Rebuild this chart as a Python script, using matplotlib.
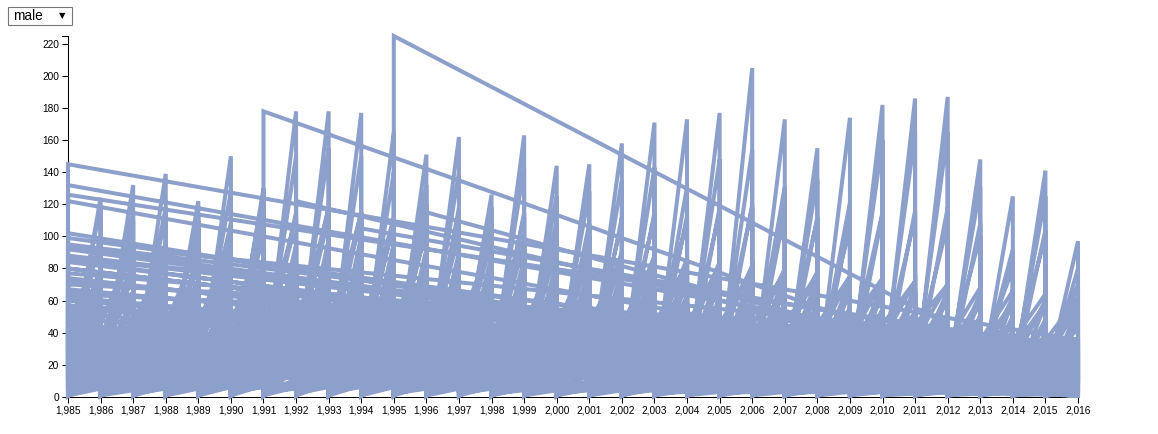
import matplotlib
matplotlib.use("Agg")
import matplotlib.pyplot as plt
from matplotlib.patches import Rectangle
from matplotlib.ticker import FuncFormatter

plt.rcParams['font.family'] = ['Liberation Sans', 'DejaVu Sans']

# selected option in the dropdown
selected_sex = "male"

year_ticks = list(range(1985, 2017))
rate_ticks = list(range(0, 221, 20))

# suicide rate per 100k, one list per country, one entry per year
# (the first age group of each year), rows kept in dataset order
country_01 = [12, 13, 14, 13, 15, 14, 16, 17, 18, 17, 16, 15, 17, 16, 15, 14,
              16, 15, 14, 13, 14, 12, 13, 12, 11, 12, 11, 10, 11, 10, 9, 9]
country_02 = [102, 98, 93, 96, 100, 104, 108, 112, 118, 115, 112, 108, 104, 100, 98, 96,
              92, 90, 88, 86, 84, 82, 80, 78, 75, 73, 72, 70, 68, 66, 64, 62]
country_03 = [145, 124, 132, 139, 122, 150, 130, 178, 178, 177, 165, 151, 162, 126, 163, 144,
              145, 158, 171, 173, 177, 205, 173, 155, 174, 182, 186, 187, 148, 125, 141, 97]
country_04 = [122, 118, 115, 112, 110, 108, 112, 115, 118, 114, 110, 106, 102, 98, 96, 93,
              90, 88, 85, 83, 80, 78, 76, 74, 72, 70, 68, 66, 64, 62, 60, 58]
country_05 = [132, 100, 110, 118, 112, 128, 125, 150, 155, 150, 140, 132, 140, 118, 143, 125,
              128, 135, 143, 131, 148, 154, 131, 136, 121, 160, 164, 165, 131, 92, 125, 70]
country_06 = [87, 70, 74, 76, 73, 78, 80, 84, 88, 85, 82, 80, 78, 76, 75, 74,
              72, 70, 71, 69, 67, 66, 64, 62, 63, 61, 60, 59, 57, 56, 55, 52]
country_07 = [126, 80, 85, 90, 88, 95, 100, 110, 112, 115, 108, 105, 110, 100, 112, 104,
              100, 108, 112, 110, 115, 118, 115, 110, 105, 115, 112, 108, 100, 80, 100, 60]
country_08 = [77, 58, 56, 54, 57, 60, 62, 66, 70, 72, 71, 68, 64, 62, 61, 59,
              58, 57, 56, 54, 53, 52, 50, 51, 49, 48, 47, 46]
country_09 = [99, 68, 66, 70, 72, 75, 78, 74, 80, 83, 79, 76, 74, 72, 70, 69,
              67, 65, 64, 62, 61, 60, 58, 57, 56, 55, 53, 52, 51, 50, 48, 46]
country_10 = [74, 64, 60, 63, 66, 70, 75, 82, 86, 90, 88, 85, 80, 78, 74, 72,
              70, 68, 65, 62, 60, 61, 58, 56, 55, 54, 52, 50, 48, 47, 45]
country_11 = [67, 52, 49, 51, 53, 50, 48, 47, 52, 55, 57, 54, 52, 50, 48, 49,
              47, 45, 46, 44, 43, 42, 44, 41, 40, 39, 38, 37, 36, 35, 34, 33]
country_12 = [88, 92, 95, 90, 94, 98, 102, 106, 110, 108, 104, 100, 97, 95, 92, 90,
              88, 86, 85, 83, 82, 80, 78, 77, 75, 74, 72, 70]
country_13 = [225, 120, 118, 112, 115, 110, 108, 112, 115, 113, 118, 120, 116, 112, 110, 114,
              116, 118, 108, 90, 104, 80]
country_14 = [57, 47, 50, 48, 46, 52, 55, 58, 60, 62, 64, 60, 58, 56, 55, 53,
              52, 50, 49, 48, 46, 45, 44, 46, 47, 45, 43, 42, 40, 41]
country_15 = [52, 42, 44, 43, 45, 48, 50, 54, 58, 60, 58, 56, 53, 52, 50, 48,
              47, 46, 45, 44, 43, 42, 41, 40, 39, 38, 37, 36, 35, 34, 33, 31]
country_16 = [48, 38, 40, 42, 39, 41, 44, 47, 50, 53, 51, 49, 46, 45, 43, 44,
              42, 41, 40, 39, 38, 37, 36, 35, 34, 33, 33]
country_17 = [80, 76, 78, 74, 72, 75, 78, 82, 85, 88, 84, 80, 77, 74, 72, 70,
              68, 66, 65, 63, 61, 60, 58, 57, 55, 54, 52, 50, 49]
country_18 = [178, 95, 98, 100, 96, 92, 90, 88, 86, 84, 82, 80, 78, 76, 75, 73,
              72, 70, 68, 67, 65, 64, 62, 60, 58, 56]
country_19 = [43, 36, 37, 35, 34, 36, 38, 40, 42, 44, 43, 41, 40, 39, 38, 37,
              36, 35, 34, 33, 32, 33, 31, 30, 31, 30, 29, 28, 27, 28, 26, 25]
country_20 = [35, 28, 27, 29, 31, 33, 35, 38, 40, 41, 39, 37, 36, 35, 33, 32,
              31, 30, 30, 29, 28, 27, 26, 25, 24, 23, 24, 22, 21, 22, 20, 18]
country_21 = [122, 70, 72, 75, 73, 70, 68, 66, 65, 63, 62, 60, 58, 57, 56, 55,
              54, 52, 51, 50, 48, 47, 46]
country_22 = [30, 31, 29, 28, 30, 32, 34, 33, 35, 36, 34, 33, 32, 30, 29, 28,
              27, 28, 26, 25, 24, 25, 23, 22, 23, 22, 21, 20, 21, 19, 18, 17]
country_23 = [24, 24, 23, 25, 26, 24, 27, 29, 30, 31, 32, 30, 29, 28, 27, 29,
              28, 26, 25, 27, 26, 24, 25, 23, 22, 24, 23, 21, 22, 20, 21, 19]
country_24 = [18, 17, 19, 20, 18, 21, 22, 24, 23, 25, 24, 22, 21, 20, 22, 21,
              19, 20, 18, 19, 17, 18, 16, 17, 15, 16, 15, 14, 15, 13, 14, 12]
country_25 = [28, 30, 32, 31, 33, 35, 38, 41, 44, 46, 45, 42, 40, 39, 37, 36,
              35, 34, 33, 32, 31, 30, 29, 30, 28, 27, 26, 25, 26, 24, 23, 22]
country_26 = [15, 16, 18, 17, 19, 20, 22, 21, 23, 24, 22, 21, 20, 19, 21, 20,
              19, 18, 17, 18, 16, 15, 16, 15, 14, 13, 14, 13, 12, 12, 11, 10]
country_27 = [40, 38, 41, 43, 40, 42, 45, 48, 46, 44, 42, 40, 38, 37, 39, 36,
              35, 36, 34, 33, 35, 32, 31, 33, 30, 29, 31, 28, 27, 29, 26, 25]
country_28 = [8, 9, 10, 9, 11, 10, 12, 11, 13, 12, 11, 12, 10, 11, 10, 9,
              10, 9, 8, 9, 8, 7, 8, 7, 6, 7, 6, 6, 5, 6, 5, 4]
country_29 = [33, 35, 34, 36, 37, 39, 40, 43, 45, 47, 44, 42, 41, 39, 38, 37,
              36, 34, 35, 33, 32, 31, 30, 29, 30, 28, 27, 26, 25, 24, 25, 23]
country_30 = [20, 22, 21, 23, 25, 24, 26, 28, 27, 29, 28, 26, 25, 24, 23, 22,
              24, 23, 21, 20, 22, 21, 19, 20, 18, 17, 19, 18, 16, 17, 15, 14]
country_31 = [55, 52, 50, 53, 51, 49, 52, 56, 59, 57, 54, 52, 50, 48, 47, 46,
              45, 44, 43, 41, 42, 40, 39, 38, 37, 36, 35, 34, 33, 32, 31, 30]
country_32 = [26, 25, 27, 26, 28, 27, 29, 31, 33, 32, 30, 28, 27, 26, 25, 24,
              23, 24, 22, 21, 20, 21, 19, 18, 19, 17, 16, 17, 15, 14, 15, 13]
country_33 = [10, 11, 12, 14, 13, 15, 16, 18, 17, 19, 18, 16, 15, 14, 16, 15,
              14, 13, 12, 13, 11, 12, 10, 11, 9, 10, 9, 8, 9, 8, 7, 7]
country_34 = [45, 47, 46, 48, 50, 52, 55, 57, 60, 58, 56, 54, 51, 49, 48, 47,
              45, 44, 43, 42, 40, 41, 39, 37, 38, 36, 35, 34, 33, 32, 30, 29]
country_35 = [36, 33, 35, 37, 36, 38, 37, 39, 41, 40, 38, 36, 35, 34, 33, 34,
              32, 31, 30, 31, 29, 28, 27, 28, 26, 25, 24, 25, 23, 22, 21, 20]
country_36 = [22, 20, 23, 21, 22, 24, 23, 25, 27, 26, 24, 23, 22, 21, 20, 22,
              21, 19, 18, 19, 17, 16, 18, 16, 15, 16, 14, 13, 14, 12, 13, 11]
country_37 = [62, 60, 58, 61, 63, 65, 68, 70, 72, 70, 67, 64, 62, 60, 58, 57,
              55, 54, 53, 51, 50, 49, 48, 47, 46, 45, 44, 43, 42]
country_38 = [31, 29, 30, 32, 31, 30, 33, 35, 34, 36, 35, 33, 31, 30, 29, 31,
              30, 28, 27, 28, 26, 25, 27, 25, 24, 23, 22, 23, 21, 20, 19, 18]
country_39 = [7, 8, 7, 9, 8, 9, 10, 9, 11, 10, 9, 10, 8, 9, 8, 7,
              8, 7, 6, 7, 6, 7, 6, 5, 6, 5, 5, 6, 5, 4, 5, 4]
country_40 = [19, 20, 18, 21, 22, 24, 23, 25, 24, 22, 21, 20, 22, 21, 19, 20,
              18, 19, 17, 18, 16, 17, 15, 16, 15, 14, 15, 13, 14, 12]
country_41 = [30, 31, 33, 32, 34, 35, 37, 39, 40, 38, 37, 36, 34, 33, 32, 31,
              32, 30, 29, 30, 28, 29, 27, 28, 26, 27]
country_42 = [5, 6, 5, 7, 6, 8, 7, 6, 7, 5, 6, 5, 4, 5, 4, 5,
              4, 3, 4, 3, 4, 3, 4, 3, 2, 3, 2]
country_43 = [14, 15, 16, 15, 17, 16, 18, 20, 19, 21, 20, 18, 17, 16, 18, 17,
              16, 15, 14, 15, 13, 14, 13, 12, 13, 12, 11, 12, 11, 10, 11, 10]
country_44 = [64, 40, 42, 45, 43, 41, 40, 38, 37, 36, 35, 34, 33, 32, 31, 30,
              31, 29, 28, 27, 26, 25, 24, 23]
country_45 = [60, 58, 62, 64, 61, 63, 66, 68, 70, 72, 69, 66, 64, 62, 60, 58,
              57, 55, 54, 53, 52, 50, 49, 48, 47, 46, 45, 44, 43, 42]
country_46 = [64, 58, 60, 62, 59, 61, 64, 66, 68, 70, 67, 65, 63, 61, 60, 58,
              56, 55, 54, 52, 51, 50, 48, 47, 46, 45, 44, 42, 41, 40, 39]
country_47 = [115, 50, 52, 48, 47, 46, 45, 44, 43, 42, 41, 40, 39, 38, 37, 36,
              35, 34, 33, 32, 31]
country_48 = [34, 36, 35, 37, 38, 36, 39, 41, 42, 40, 39, 38, 37, 36, 35, 36,
              34, 33, 35, 33, 32, 34, 33, 32, 34, 33, 32, 33, 34, 33, 32, 34]
country_49 = [90, 48, 50, 52, 55, 57, 56, 54, 52, 50, 49, 48, 47, 46, 45, 44,
              43, 42, 41, 40, 39, 38, 37, 36, 35, 34, 33, 32, 31]
country_50 = [21, 20, 22, 23, 22, 24, 25, 26, 25, 24, 23, 22, 21, 22, 21, 20,
              19, 20, 19, 18, 19, 18, 17, 18, 17, 16, 17, 16, 15, 16, 15, 14]
country_51 = [72, 62, 65, 68, 66, 70, 72, 75, 78, 76, 73, 70, 68, 66, 65, 63,
              62, 60, 59, 58, 57, 56, 55, 54, 53, 52, 51]
country_52 = [4, 5, 4, 6, 5, 6, 7, 6, 8, 7, 6, 7, 5, 6, 5, 4,
              5, 4, 5, 4, 3, 4, 3, 4, 3, 3, 2, 3, 2, 3, 2, 2]
country_53 = [15, 14, 16, 15, 14, 16, 17, 16, 18, 17, 16, 15, 14, 15, 14, 13,
              14, 13, 12, 13, 12, 13, 12, 11, 12, 11, 12, 11, 10, 11, 10, 11]
country_54 = [27, 26, 28, 27, 29, 28, 30, 31, 30, 29, 28, 27, 26, 27, 26, 25,
              26, 25, 24, 25, 24, 23, 24, 23, 22, 23, 22, 21, 22, 21, 20, 21]
country_55 = [40, 39, 41, 40, 42, 41, 43, 44, 45, 43, 42, 41, 40, 39, 38, 39,
              38, 37, 38, 37, 36, 37, 36, 35, 36, 35, 34, 35, 34, 33, 34, 33]
country_56 = [9, 8, 10, 9, 8, 10, 11, 10, 12, 11, 10, 9, 10, 9, 8, 9,
              8, 9, 8, 7, 8, 7, 8, 7, 6, 7, 6, 7, 6, 5, 6, 5]
country_57 = [20, 22, 21, 20, 23, 22, 24, 23, 25, 24, 23, 22, 21, 20, 21, 20,
              19, 20, 19, 18, 19, 18, 19, 17, 18, 17, 16, 17, 16, 15, 16, 15]
country_58 = [95, 35, 36, 34, 35, 37, 38, 40, 39, 41, 40, 38, 37, 36, 35, 34,
              35, 34, 33, 32, 33, 32, 31, 32, 31, 30, 31, 30, 29, 30, 29, 28]
country_59 = [38, 40, 42, 44, 43, 42, 40, 39, 38, 37, 36, 35, 34, 33, 32, 31,
              30, 29, 28, 27, 26, 25, 24, 23, 22, 21, 20, 19]
country_60 = [6, 7, 6, 5, 7, 6, 8, 7, 6, 7, 6, 5, 6, 5, 4, 5,
              4, 5, 4, 3, 4, 3, 4, 3, 4, 3, 2, 3, 2, 3, 2, 3]
country_61 = [85, 48, 50, 52, 51, 53, 55, 58, 60, 62, 60, 58, 56, 55, 54, 53,
              52, 51, 50, 49, 48, 47, 46, 45, 46, 45, 44, 43]
country_62 = [70, 32, 33, 35, 34, 36, 38, 37, 39, 40, 38, 37, 36, 35, 34, 33,
              34, 32, 31, 32, 30, 31, 29, 30, 28, 29, 28, 27, 28, 27, 26, 27]
country_63 = [105, 45, 47, 46, 44, 43, 42, 41, 40, 39, 38, 37, 36, 35, 34, 33,
              32, 31, 30, 29, 28, 27, 26]
country_64 = [84, 55, 57, 60, 62, 65, 63, 61, 60, 58, 56, 55, 54, 52, 51, 50,
              49, 48, 47, 46, 45, 44, 43, 42, 41, 40, 39, 38, 37, 36, 35]
country_65 = [12, 13, 12, 14, 13, 12, 14, 15, 14, 13, 12, 13, 12, 11, 12, 11,
              12, 11, 10, 11, 10, 11, 10, 11, 10, 9, 10, 9, 10, 9, 8, 9]
country_66 = [93, 38, 37, 39, 40, 42, 44, 46, 45, 43, 42, 41, 40, 39, 38, 37,
              38, 36, 37, 35, 36, 34, 35, 33, 34, 32, 33, 31, 32, 30]
country_67 = [10, 11, 10, 12, 11, 13, 12, 14, 13, 12, 11, 12, 11, 10, 11, 10,
              9, 10, 9, 10, 9, 8, 9, 8, 9, 8, 7, 8, 7, 8, 7, 8]
country_68 = [92, 38, 40, 39, 42, 41, 44, 45, 43, 42, 40, 41, 39, 38, 40, 39,
              37, 38, 36, 37, 35, 36, 34, 35, 33, 34, 32, 33, 31, 32, 30, 31]
country_69 = [28, 27, 29, 30, 28, 31, 32, 34, 33, 35, 34, 32, 31, 30, 32, 31,
              30, 29, 28, 29, 27, 28, 26, 27, 25, 26, 24, 25, 23, 24, 22, 23]
country_70 = [55, 57, 56, 58, 60, 59, 61, 62, 60, 58, 57, 56, 55, 54, 53, 54,
              52, 51, 52, 50, 49, 50, 48, 47, 48, 46, 45, 46, 44, 43, 42]
country_71 = [65, 62, 64, 66, 63, 67, 69, 70, 68, 66, 65, 63, 62, 61, 60, 59,
              58, 57, 56, 55, 56, 54, 53, 54, 52, 51, 52, 50, 49, 50, 48, 49]
country_72 = [60, 58, 61, 59, 62, 64, 63, 65, 64, 62, 61, 60, 59, 58, 57, 58,
              56, 55, 56, 54, 53, 54, 52, 53, 51, 50, 51, 49, 48]
country_73 = [17, 18, 16, 19, 18, 20, 19, 21, 20, 22, 21, 19, 18, 20, 19, 18,
              17, 18, 16, 17, 15, 16, 15, 14, 15, 14, 13, 14, 12, 13, 12, 11]
country_74 = [45, 44, 46, 48, 47, 49, 50, 48, 47, 46, 45, 44, 46, 45, 43, 44,
              42, 41, 43, 42, 40, 41, 39, 40, 38, 39, 37, 38, 36, 37, 35, 36]
country_75 = [80, 78, 82, 84, 81, 83, 85, 82, 80, 79, 78, 77, 76, 75, 74, 73,
              72, 71, 70, 69, 68, 67, 66, 65, 64, 63, 62, 61, 60, 59, 58, 57]
country_76 = [30, 29, 31, 32, 30, 33, 32, 31, 30, 29, 31, 30, 29, 28, 30, 29,
              28, 27, 29, 28, 27, 26, 28, 27, 26, 25, 27, 26, 25, 24, 26, 25]

# first year on record for each country
first_years = [1985, 1985, 1985, 1985, 1985, 1985, 1985, 1985, 1985, 1985, 1985, 1985,
               1995, 1985, 1985, 1985, 1985, 1991, 1985, 1985, 1992, 1985, 1985, 1985,
               1985, 1985, 1985, 1985, 1985, 1985, 1985, 1985, 1985, 1985, 1985, 1985,
               1985, 1985, 1985, 1987, 1985, 1990, 1985, 1993, 1985, 1985, 1996, 1985,
               1988, 1985, 1985, 1985, 1985, 1985, 1985, 1985, 1985, 1985, 1989, 1985,
               1985, 1985, 1994, 1985, 1985, 1985, 1985, 1985, 1985, 1986, 1985, 1985,
               1985, 1985, 1985, 1985]
# rate of the last age group in each year (where the path leaves the year)
exit_rates = [1, 35, 8, 20, 15, 30, 25, 25, 4, 12, 15, 45,
              10, 6, 22, 18, 20, 5, 3, 8, 28, 10, 5, 2,
              14, 9, 26, 0.5, 4, 12, 33, 19, 3, 11, 24, 7,
              16, 29, 6, 16, 27, 3, 12, 20, 38, 9, 14, 32,
              22, 17, 40, 0.8, 13, 24, 36, 4, 18, 30, 10, 2,
              42, 26, 8, 20, 11, 34, 7, 16, 3, 25, 10, 38,
              0.5, 5, 30, 13]

countries = [country_01, country_02, country_03, country_04, country_05, country_06,
             country_07, country_08, country_09, country_10, country_11, country_12,
             country_13, country_14, country_15, country_16, country_17, country_18,
             country_19, country_20, country_21, country_22, country_23, country_24,
             country_25, country_26, country_27, country_28, country_29, country_30,
             country_31, country_32, country_33, country_34, country_35, country_36,
             country_37, country_38, country_39, country_40, country_41, country_42,
             country_43, country_44, country_45, country_46, country_47, country_48,
             country_49, country_50, country_51, country_52, country_53, country_54,
             country_55, country_56, country_57, country_58, country_59, country_60,
             country_61, country_62, country_63, country_64, country_65, country_66,
             country_67, country_68, country_69, country_70, country_71, country_72,
             country_73, country_74, country_75, country_76]

# one path through all rows, in dataset order (like d3.line over the raw rows)
xs, ys = [], []
for entries, start, low in zip(countries, first_years, exit_rates):
    for i, rate in enumerate(entries):
        xs += [start + i, start + i]
        ys += [rate, low]

W, H = 1158, 434
fig = plt.figure(figsize=(W / 100, H / 100), dpi=100)
left, right, top, bottom = 68, 1078, 36, 396.7
ax = fig.add_axes([left / W, 1 - bottom / H, (right - left) / W, (bottom - top) / H])

ax.plot(xs, ys, color='#8da0cb', lw=2.9, solid_joinstyle='miter',
        clip_on=False, zorder=3)

ax.set_xlim(year_ticks[0], year_ticks[-1])
ax.set_ylim(0, max(ys))
ax.set_xticks(year_ticks)
ax.set_yticks(rate_ticks)
ax.xaxis.set_major_formatter(FuncFormatter(lambda v, p: f"{v:,.0f}"))

for side in ['top', 'right']:
    ax.spines[side].set_visible(False)
for side in ['left', 'bottom']:
    ax.spines[side].set_linewidth(0.75)
    ax.spines[side].set_zorder(1)
ax.tick_params(length=4.3, width=0.75, pad=2.2, labelsize=7.3, colors='black')
# d3 outer tick at the top of the y domain
ax.plot([-6 / (right - left), 0], [1, 1], transform=ax.transAxes,
        color='black', lw=0.75, clip_on=False)

# dropdown
fig.patches.append(Rectangle((8 / W, 1 - 25 / H), 64 / W, 18 / H, transform=fig.transFigure,
                             facecolor='white', edgecolor='#767676', lw=0.8))
fig.text(13 / W, 1 - 16 / H, selected_sex, fontsize=9.8, va='center', ha='left')
fig.text(62 / W, 1 - 15.5 / H, "\u25bc", fontsize=6, va='center', ha='center',
         family='DejaVu Sans')

fig.savefig("out.png", dpi=100)
